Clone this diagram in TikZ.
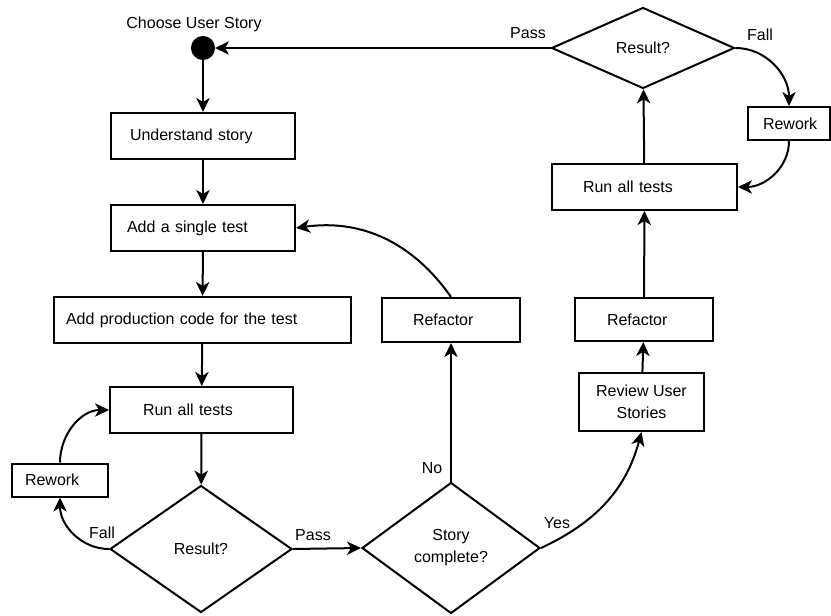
\documentclass[tikz,border=0pt]{standalone}
\usepackage{fontspec}
\setmainfont{Liberation Sans}
\usetikzlibrary{shapes.geometric, arrows.meta}

\begin{document}
\begin{tikzpicture}[x=0.75pt, y=-0.75pt, line width=1.5pt,
    every node/.style={font=\fontsize{12}{16.5}\selectfont},
    box/.style 2 args={draw, rectangle, align=left, text width=#1, inner xsep=#2, minimum height=34.5pt},
    decision/.style={draw, diamond, align=center, inner sep=0pt},
    dot/.style={draw, circle, fill=black, minimum size=16.5pt, inner sep=0pt},
    arr/.style={-{Stealth[length=10.5pt, width=10pt, inset=3pt]}}]
  \useasboundingbox (0,0) rectangle (831,616);

  % left column
  \node[dot] (start) at (203,48) {};
  \node (startlbl) at (194,24) {Choose User Story};
  \node[box={109.5pt}{14.25pt}] (understand) at (203,136) {Understand story};
  \node[box={114pt}{12pt}] (single) at (203,228) {Add a single test};
  \node[box={204.75pt}{9pt}] (prod) at (202.5,320) {Add production code for the test};
  \node[box={87.75pt}{24.75pt}] (runL) at (201.5,410) {Run all tests};
  \node[box={52.5pt}{9.75pt}, minimum height=24.75pt] (reworkL) at (60,480) {Rework};
  \node[decision, minimum width=136.5pt, minimum height=95.25pt] (resultL) at (201,549) {Result?};
  \node (failL) at (102,533) {Fall};
  \node (passL) at (313,535) {Pass};

  % middle
  \node[decision, minimum width=133.5pt, minimum height=98.25pt] (story) at (451,548) {Story\\complete?};
  \node (no) at (432,468) {No};
  \node (yes) at (557,523) {Yes};
  \node[box={57pt}{23.25pt}, minimum height=33pt] (refactorL) at (451,320) {Refactor};

  % right column
  \node[draw, align=center, minimum width=93.75pt, minimum height=43.5pt] (review) at (641.5,402) {Review User\\Stories};
  \node[box={55.5pt}{24pt}, minimum height=32.25pt] (refactorR) at (644,319.5) {Refactor};
  \node[box={92.25pt}{23.25pt}] (runR) at (644.5,187) {Run all tests};
  \node[decision, minimum width=137.25pt, minimum height=60.75pt] (resultR) at (643,48) {Result?};
  \node (passR) at (528,33) {Pass};
  \node (failR) at (760,35) {Fall};
  \node[box={39pt}{11.25pt}, minimum height=24.75pt] (reworkR) at (789,123.5) {Rework};

  % connectors
  \draw[arr] (start) -- (understand);
  \draw[arr] (understand) -- (single);
  \draw[arr] (single) -- (prod);
  \draw[arr] (prod) -- (runL);
  \draw[arr] (runL) -- (resultL);
  \draw[arr] (resultL.west) to[out=180, in=-90] (reworkL.south);
  \draw[arr] (reworkL.north) to[out=90, in=180] (runL.west);
  \draw[arr] (resultL.east) -- (story.west);
  \draw[arr] (story.north) -- (refactorL.south);
  \draw[arr] (refactorL.north) to[out=125, in=8] (single.east);
  \draw[arr] (story.east) to[out=25, in=-105] (review.south);
  \draw[arr] (review) -- (refactorR);
  \draw[arr] (refactorR) -- (runR);
  \draw[arr] (runR) -- (resultR);
  \draw[arr] (resultR.west) -- (start);
  \draw[arr] (resultR.east) to[out=0, in=90] (reworkR.north);
  \draw[arr] (reworkR.south) to[out=-90, in=0] (runR.east);
\end{tikzpicture}
\end{document}
